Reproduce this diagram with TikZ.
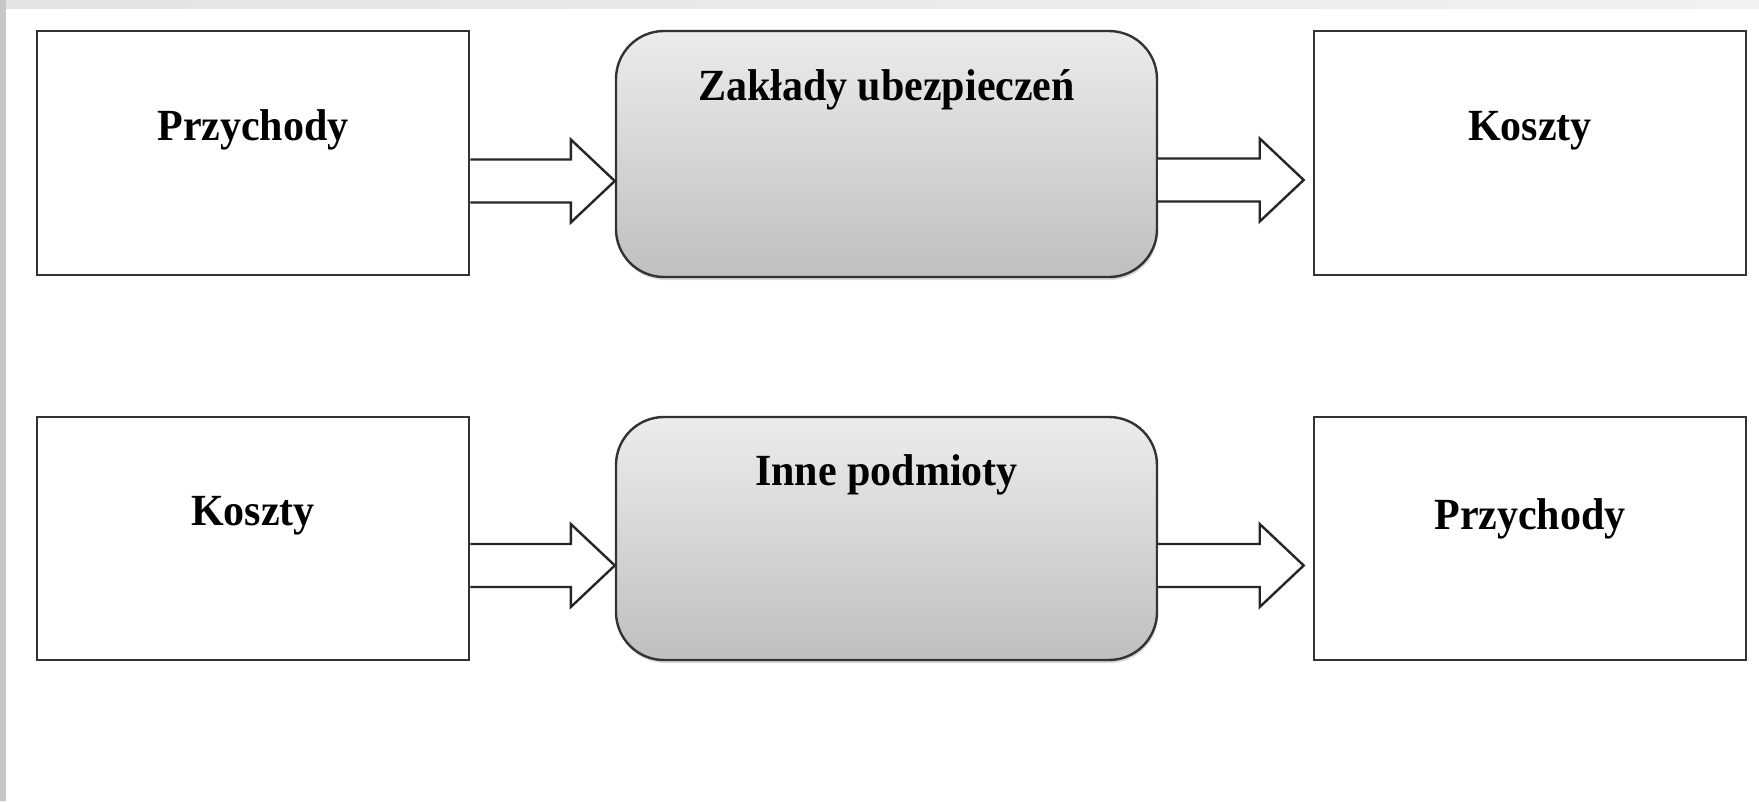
\documentclass[tikz,border=0pt]{standalone}
\usepackage{fontspec}
\setmainfont{Liberation Serif}
\usetikzlibrary{calc,shadows}
\definecolor{edgeL}{HTML}{C4C8C8}
\definecolor{topL}{HTML}{E2E3E3}
\definecolor{topR}{HTML}{F1F1F1}
\begin{document}
\begin{tikzpicture}[x=1pt,y=-1pt,
  box/.style={draw=black!80,line width=2.6pt,fill=white,minimum width=432pt,minimum height=244pt,inner sep=0pt},
  rbox/.style={draw=black!80,line width=2.4pt,rounded corners=48pt,top color=gray!15,bottom color=gray!50,
    minimum width=541pt,minimum height=246pt,inner sep=0pt,
    drop shadow={shadow xshift=1pt,shadow yshift=-3pt,opacity=0.3}},
  lbl/.style={font=\fontsize{42}{50}\selectfont\bfseries,inner sep=0pt,anchor=base,yscale=1.06},
  fat/.style={draw=black!85,line width=2.4pt,fill=white,line join=miter}]
  % background
  \fill[white] (0,0) rectangle (1759,801);
  \shade[left color=topL,right color=topR] (0,0) rectangle (1759,8);
  \fill[edgeL] (0,0) rectangle (6,801);
  \useasboundingbox (0,0) rectangle (1759,801);
  % row 1
  \node[box] (p1) at (253,153) {};
  \node[rbox] (z1) at (886.5,154) {};
  \node[box] (k1) at (1530,153) {};
  \node[lbl] (p1t) at (253,140) {Przychody};
  \node[lbl] (z1t) at (886.5,100) {Zakłady ubezpieczeń};
  \node[lbl] (k1t) at (1530,140) {Koszty};
  % row 2
  \node[box,minimum height=243pt] (p2) at (253,538.5) {};
  \node[rbox,minimum height=243pt] (z2) at (886.5,538.5) {};
  \node[box,minimum height=243pt] (k2) at (1530,538.5) {};
  \node[lbl] (p2t) at (253,525) {Koszty};
  \node[lbl] (z2t) at (886.5,485) {Inne podmioty};
  \node[lbl] (k2t) at (1530,529) {Przychody};
  % arrows
  \foreach \a/\b/\g in {p1/z1/0, z1/k1/9, p2/z2/0, z2/k2/9}{
    \coordinate (t) at ($(\b.west)+(-\g,27)$);
    \coordinate (s) at (\a.east |- t);
    \filldraw[fat] ($(s)+(0,-21.5)$) -- ($(t)+(-44,-21.5)$) -- ($(t)+(-44,-41.5)$) -- (t)
      -- ($(t)+(-44,41.5)$) -- ($(t)+(-44,21.5)$) -- ($(s)+(0,21.5)$);
  }
\end{tikzpicture}
\end{document}
